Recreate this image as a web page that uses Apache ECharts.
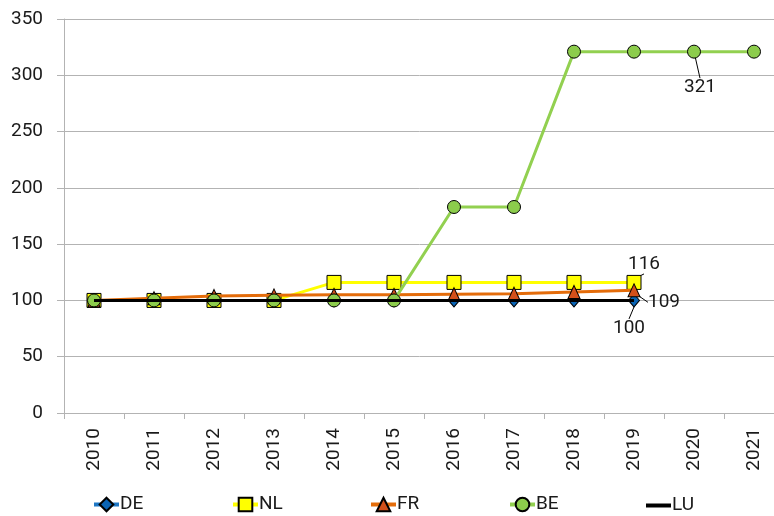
<!DOCTYPE html>
<html>
<head>
<meta charset="utf-8">
<script src="https://cdn.jsdelivr.net/npm/echarts@6/dist/echarts.min.js"></script>
<style>html,body{margin:0;padding:0;background:#fff}#c{width:774px;height:516px}</style>
</head>
<body>
<div id="c"></div>
<script>
const years = ['2010','2011','2012','2013','2014','2015','2016','2017','2018','2019','2020','2021'];
const DE = [100,100,100,100,100,100,100,100,100,100];
const NL = [100,100,100,100,116,116,116,116,116,116];
const FR = [100,102,104,104.5,105,105,105.5,106,107.5,109];
const BE = [100,100,100,100,100,100,183,183,321,321,321,321];
const LU = [100,100,100,100,100,100,100,100,100,100];
const yTicks = [0,50,100,150,200,250,300,350];

const FONT = 'Roboto';
const TXT = '#1a1a1a';

function withLabel(arr, idx) {
  return arr.map((v, i) => i === idx ? {value: v, label: {show: true}} : v);
}
function layoutAt(dx, dy) {
  return function (p) {
    const r = p.rect;
    return {x: r.x + r.width / 2 + dx, y: r.y + r.height / 2 + dy, align: 'center', verticalAlign: 'middle'};
  };
}
const lbl = {show: false, color: TXT, fontFamily: FONT, fontSize: 19};
const lblLine = {show: true, lineStyle: {color: '#000', width: 1}};

function legend(name, left, extra) {
  const item = Object.assign({name: name, lineStyle: {width: 4}}, (extra && extra.item) || {});
  return Object.assign({
    data: [item], left: left, top: 490, itemWidth: 25, itemHeight: 17, itemGap: 0,
    lineStyle: {width: 4},
    textStyle: {color: TXT, fontFamily: FONT, fontSize: 19, padding: [0, 0, 0, -4]}
  }, (extra && extra.opt) || {});
}

const option = {
  animation: false,
  backgroundColor: '#fff',
  grid: {left: 64, width: 720, top: 19, bottom: 103, containLabel: false, outerBoundsMode: 'none'},
  legend: [
    legend('DE', 87), legend('NL', 226), legend('FR', 364), legend('BE', 503),
    legend('LU', 641, {item: {icon: 'rect', itemStyle: {color: '#000'}}, opt: {itemHeight: 4, top: 491}})
  ],
  xAxis: {
    type: 'category', data: years, boundaryGap: true,
    axisLine: {lineStyle: {color: '#b3b3b3', width: 1}},
    axisTick: {show: true, length: 6, alignWithLabel: false, lineStyle: {color: '#b3b3b3'}},
    axisLabel: {rotate: 90, margin: 15, color: TXT, fontFamily: FONT, fontSize: 19, interval: 0}
  },
  yAxis: {
    type: 'value', min: yTicks[0], max: yTicks[yTicks.length - 1], interval: 50,
    axisLine: {show: true, lineStyle: {color: '#b3b3b3', width: 1}},
    axisTick: {show: true, length: 7, lineStyle: {color: '#b3b3b3'}},
    axisLabel: {margin: 21, color: TXT, fontFamily: FONT, fontSize: 19},
    splitLine: {lineStyle: {color: '#b3b3b3', width: 1}}
  },
  series: [
    {
      name: 'DE', type: 'line', data: withLabel(DE, 9),
      symbol: 'diamond', symbolSize: [11, 13],
      lineStyle: {color: '#1f77c4', width: 3}, itemStyle: {color: '#0a64b4', borderColor: '#000', borderWidth: 1},
      label: lbl, labelLayout: layoutAt(-5, 28), labelLine: lblLine, z: 2
    },
    {
      name: 'NL', type: 'line', data: withLabel(NL, 9),
      symbol: 'rect', symbolSize: 14,
      lineStyle: {color: '#ffff00', width: 3}, itemStyle: {color: '#ffff00', borderColor: '#000', borderWidth: 1},
      label: lbl, labelLayout: layoutAt(10, -18), labelLine: lblLine, z: 3
    },
    {
      name: 'FR', type: 'line', data: withLabel(FR, 9),
      symbol: 'triangle', symbolSize: [12, 13],
      lineStyle: {color: '#e46c0a', width: 3}, itemStyle: {color: '#d2501a', borderColor: '#000', borderWidth: 1},
      label: lbl, labelLayout: layoutAt(30, 12), labelLine: lblLine, z: 4
    },
    {
      name: 'BE', type: 'line', data: withLabel(BE, 10),
      symbol: 'circle', symbolSize: 13,
      lineStyle: {color: '#92d050', width: 3}, itemStyle: {color: '#8ccc4c', borderColor: '#000', borderWidth: 1},
      label: lbl, labelLayout: layoutAt(6, 36), labelLine: lblLine, z: 5
    },
    {
      name: 'LU', type: 'line', data: LU,
      symbol: 'none', showSymbol: false,
      lineStyle: {color: '#000', width: 3}, itemStyle: {color: '#000'}, z: 6
    }
  ]
};
const chart = echarts.init(document.getElementById('c'), null, {renderer: 'canvas'});
chart.setOption(option);
</script>
</body>
</html>
